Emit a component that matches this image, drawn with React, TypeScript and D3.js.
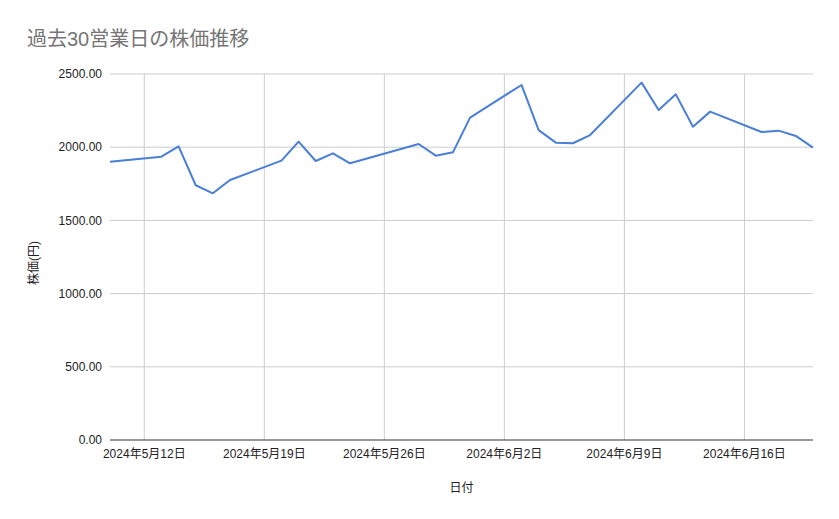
import { useEffect, useRef } from 'react';
import * as d3 from 'd3';

// 営業日 (2024) and closing prices
const dates = [
  '2024-05-10',
  '2024-05-13', '2024-05-14', '2024-05-15', '2024-05-16', '2024-05-17',
  '2024-05-20', '2024-05-21', '2024-05-22', '2024-05-23', '2024-05-24',
  '2024-05-28', '2024-05-29', '2024-05-30', '2024-05-31',
  '2024-06-03', '2024-06-04', '2024-06-05', '2024-06-06', '2024-06-07',
  '2024-06-10', '2024-06-11', '2024-06-12', '2024-06-13', '2024-06-14',
  '2024-06-17', '2024-06-18', '2024-06-19', '2024-06-20',
];
const prices = [
  1901,
  1935, 2006, 1740, 1685, 1776,
  1908, 2038, 1906, 1958, 1890,
  2022, 1942, 1965, 2202,
  2425, 2117, 2031, 2027, 2083,
  2441, 2254, 2361, 2140, 2243,
  2104, 2113, 2077, 1997,
];
const yTicks = [0, 500, 1000, 1500, 2000, 2500];

const WIDTH = 839;
const HEIGHT = 519;
const FONT = '"Liberation Sans", Arial, "Noto Sans CJK JP", sans-serif';

export default function App() {
  const svgRef = useRef<SVGSVGElement>(null);

  useEffect(() => {
    if (!svgRef.current) return;
    const svg = d3.select(svgRef.current);
    svg.selectAll('*').remove();

    const margin = { top: 74, right: 26, bottom: 79, left: 110 };
    const innerWidth = WIDTH - margin.left - margin.right;
    const innerHeight = HEIGHT - margin.top - margin.bottom;

    const parse = d3.timeParse('%Y-%m-%d');
    const data = dates.map((d, i) => ({ date: parse(d)!, value: prices[i] }));

    const x = d3.scaleTime()
      .domain([data[0].date, data[data.length - 1].date])
      .range([0, innerWidth]);
    const y = d3.scaleLinear().domain([0, 2500]).range([innerHeight, 0]);

    svg.append('rect').attr('width', WIDTH).attr('height', HEIGHT).attr('fill', '#fff');

    svg.append('text')
      .attr('x', 27)
      .attr('y', 46)
      .attr('fill', '#757575')
      .attr('font-size', 20)
      .attr('font-family', FONT)
      .text('過去30営業日の株価推移');

    const g = svg.append('g').attr('transform', `translate(${margin.left}, ${margin.top})`);

    // gridlines
    g.selectAll('.hgrid')
      .data(yTicks.filter((t) => t > 0))
      .join('line')
      .attr('x1', 0)
      .attr('x2', innerWidth)
      .attr('y1', (d) => y(d))
      .attr('y2', (d) => y(d))
      .attr('stroke', '#cccccc');

    const xTicks = x.ticks(d3.timeWeek.every(1)!);
    g.selectAll('.vgrid')
      .data(xTicks)
      .join('line')
      .attr('x1', (d) => x(d))
      .attr('x2', (d) => x(d))
      .attr('y1', 0)
      .attr('y2', innerHeight)
      .attr('stroke', '#cccccc');

    // y labels
    g.selectAll('.ylab')
      .data(yTicks)
      .join('text')
      .attr('x', -8)
      .attr('y', (d) => y(d))
      .attr('dy', '0.35em')
      .attr('text-anchor', 'end')
      .attr('font-size', 12)
      .attr('font-family', FONT)
      .attr('fill', '#222')
      .text((d) => d.toFixed(2));

    // x labels
    g.selectAll('.xlab')
      .data(xTicks)
      .join('text')
      .attr('x', (d) => x(d))
      .attr('y', innerHeight + 18)
      .attr('text-anchor', 'middle')
      .attr('font-size', 12)
      .attr('font-family', FONT)
      .attr('fill', '#222')
      .text((d) => `${d.getFullYear()}年${d.getMonth() + 1}月${d.getDate()}日`);

    // baseline
    g.append('line')
      .attr('x1', 0)
      .attr('x2', innerWidth)
      .attr('y1', innerHeight)
      .attr('y2', innerHeight)
      .attr('stroke', '#333')
      .attr('stroke-width', 1);

    const line = d3.line<{ date: Date; value: number }>()
      .x((d) => x(d.date))
      .y((d) => y(d.value));

    g.append('path')
      .datum(data)
      .attr('d', line)
      .attr('fill', 'none')
      .attr('stroke', '#4a7fd8')
      .attr('stroke-width', 2)
      .attr('stroke-linejoin', 'round');

    // axis titles
    svg.append('text')
      .attr('x', margin.left + innerWidth / 2)
      .attr('y', 492)
      .attr('text-anchor', 'middle')
      .attr('font-size', 12)
      .attr('font-family', FONT)
      .attr('fill', '#222')
      .text('日付');

    svg.append('text')
      .attr('transform', `translate(38, ${margin.top + innerHeight / 2 + 6}) rotate(-90)`)
      .attr('text-anchor', 'middle')
      .attr('font-size', 12)
      .attr('font-family', FONT)
      .attr('fill', '#222')
      .text('株価(円)');
  }, []);

  return (
    <svg
      ref={svgRef}
      width={WIDTH}
      height={HEIGHT}
      style={{ position: 'absolute', left: 0, top: 0, display: 'block' }}
    />
  );
}
